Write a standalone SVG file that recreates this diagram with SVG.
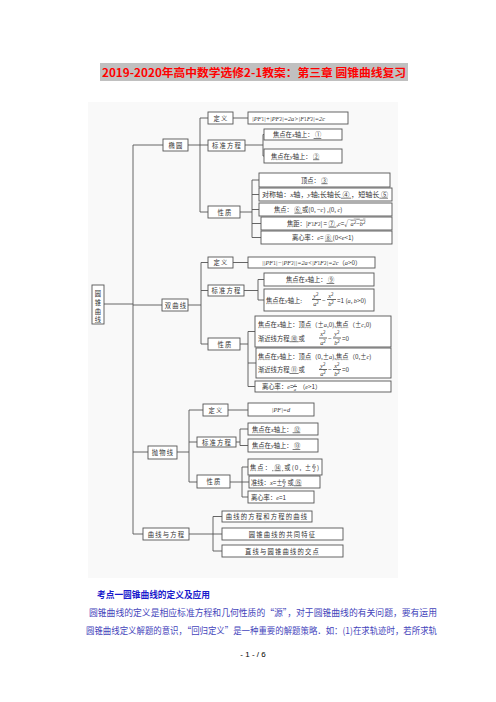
<svg xmlns="http://www.w3.org/2000/svg" width="496" height="702" viewBox="0 0 496 702">
<style>
.box{fill:#fff;stroke:#555;stroke-width:0.9}
.ln{stroke:#555;stroke-width:0.9;fill:none}
.t{font-family:"Noto Sans CJK SC",sans-serif;font-size:6.3px;fill:#333}
.c{text-anchor:middle}
.sp{letter-spacing:1.2px}
.m{font-family:"Liberation Serif",serif;font-style:italic}
.s{font-size:4.6px}
.u{text-decoration:underline}
</style>
<rect width="496" height="702" fill="#fff"/>
<rect x="100" y="63" width="308" height="18" fill="#c0c0c0"/>
<text x="102" y="77" font-family="'Noto Sans CJK SC',sans-serif" font-size="11" font-weight="bold" fill="#f00" textLength="304" lengthAdjust="spacingAndGlyphs">2019-2020年高中数学选修2-1教案：第三章 圆锥曲线复习</text>
<rect x="88" y="102" width="310" height="476" fill="#f9f9f9"/>

<g id="connectors" class="ln">
<path d="M104 304H133M133 145V534M133 145H163M133 305H162M133 452H148M133 534H143"/>
<path d="M188 145H200M200 118V212M200 118H208M200 145H208M200 212H208"/>
<path d="M233 118H248M245 145H263M263 134.5V156M263 134.5H264M263 156H264"/>
<path d="M240 212H252M252 180V237.5M252 180H259M252 194.5H259M252 209.5H259M252 223.5H261M252 237.5H261"/>
<path d="M188 305H201M201 262.5V344M201 262.5H208M201 290.5H208M201 344H208"/>
<path d="M233 262.5H248M244 290.5H258M258 279.5V300M258 279.5H264M258 300H264"/>
<path d="M240 344H248M248 331.5V386.5M248 331.5H255M248 363H256M248 386.5H255"/>
<path d="M177 452H189M189 410V482M189 410H203M189 442H197M189 482H197"/>
<path d="M228 410H248M236 442H240M240 429V445.5M240 429H248M240 445.5H248"/>
<path d="M230 482H242M242 467V497M242 467H248M242 482H249M242 497H248"/>
<path d="M189 534H222M213 516.5V551M213 516.5H222M213 551H222"/>
</g>

<g id="root"><rect class="box" x="92" y="285" width="12" height="39"/>
<text class="t c" x="98"><tspan x="98" y="296">圆</tspan><tspan x="98" y="305">锥</tspan><tspan x="98" y="314">曲</tspan><tspan x="98" y="322">线</tspan></text></g>

<g id="ellipse"><rect class="box" x="163" y="139" width="25" height="12"/><text class="t c sp" x="176" y="147.5">椭圆</text></g>
<g id="e-def"><rect class="box" x="208" y="112" width="25" height="12"/><text class="t c sp" x="221" y="120.5">定义</text></g>
<g id="e-std"><rect class="box" x="208" y="140" width="37" height="11"/><text class="t c sp" x="227" y="148">标准方程</text></g>
<g id="e-prop"><rect class="box" x="208" y="206" width="32" height="12"/><text class="t c sp" x="225" y="214.5">性质</text></g>
<g id="e-def-t"><rect class="box" x="248" y="112" width="100" height="12"/><text class="t" x="252" y="120.5"><tspan class="m">|PF</tspan><tspan class="s">1</tspan><tspan class="m">|+|PF</tspan><tspan class="s">2</tspan><tspan class="m">|=2a&gt;|F</tspan><tspan class="s">1</tspan><tspan class="m">F</tspan><tspan class="s">2</tspan><tspan class="m">|=2c</tspan></text></g>
<g id="e-x"><rect class="box" x="264" y="129" width="78" height="11"/><text class="t" x="273" y="137">焦点在<tspan class="m">x</tspan>轴上：<tspan class="u"> ① </tspan></text></g>
<g id="e-y"><rect class="box" x="264" y="149" width="78" height="14"/><text class="t" x="271" y="158.5">焦点在<tspan class="m">y</tspan>轴上： <tspan class="u"> ② </tspan></text></g>
<g id="e-p1"><rect class="box" x="259" y="173" width="131" height="14"/><text class="t" x="301" y="182.5">顶点： <tspan class="u"> ③ </tspan></text></g>
<g id="e-p2"><rect class="box" x="259" y="188" width="133" height="13"/><text class="t" x="262" y="196.8" textLength="126" lengthAdjust="spacingAndGlyphs">对称轴：<tspan class="m">x</tspan>轴，<tspan class="m">y</tspan>轴;长轴长<tspan class="u"> ④ </tspan>，短轴长<tspan class="u"> ⑤ </tspan></text></g>
<g id="e-p3"><rect class="box" x="259" y="203" width="133" height="13"/><text class="t" x="274" y="211.8">焦点： <tspan class="u"> ⑥ </tspan> 或(0, −<tspan class="m">c</tspan>) ,(0, <tspan class="m">c</tspan>)</text></g>
<g id="e-p4"><rect class="box" x="261" y="217" width="131" height="13"/><text class="t" x="287" y="225.8">焦距：|<tspan class="m">F</tspan><tspan class="s">1</tspan><tspan class="m">F</tspan><tspan class="s">2</tspan>| = <tspan class="u"> ⑦ </tspan> ,<tspan class="m">c</tspan>=√<tspan text-decoration="overline"><tspan class="m">a</tspan><tspan class="s" dy="-2">2</tspan><tspan dy="2">−</tspan><tspan class="m">b</tspan><tspan class="s" dy="-2">2</tspan></tspan></text></g>
<g id="e-p5"><rect class="box" x="261" y="231" width="131" height="13"/><text class="t" x="292" y="239.8">离心率：<tspan class="m">e</tspan>= <tspan class="u"> ⑧ </tspan> (0&lt;<tspan class="m">e</tspan>&lt;1)</text></g>

<g id="hyperbola"><rect class="box" x="162" y="299" width="26" height="12"/><text class="t c sp" x="176" y="307.5">双曲线</text></g>
<g id="h-def"><rect class="box" x="208" y="257" width="25" height="11"/><text class="t c sp" x="221" y="265">定义</text></g>
<g id="h-std"><rect class="box" x="208" y="285" width="36" height="11"/><text class="t c sp" x="226.5" y="293">标准方程</text></g>
<g id="h-prop"><rect class="box" x="208" y="338" width="32" height="12"/><text class="t c sp" x="225" y="346.5">性质</text></g>
<g id="h-def-t"><rect class="box" x="248" y="257" width="127" height="11"/><text class="t" x="262" y="265"><tspan class="m">||PF</tspan><tspan class="s">1</tspan><tspan class="m">|−|PF</tspan><tspan class="s">2</tspan><tspan class="m">||=2a&lt;|F</tspan><tspan class="s">1</tspan><tspan class="m">F</tspan><tspan class="s">2</tspan><tspan class="m">|=2c</tspan>（<tspan class="m">a</tspan>&gt;0）</text></g>
<g id="h-x"><rect class="box" x="264" y="273" width="110" height="13"/><text class="t" x="286" y="282">焦点在<tspan class="m">x</tspan>轴上：<tspan class="u"> ⑨ </tspan></text></g>
<g id="h-y"><rect class="box" x="264" y="289" width="110" height="22"/>
<text class="t" x="266" y="302.5">焦点在<tspan class="m">y</tspan>轴上:</text>
<text class="t c" x="316" y="297.5"><tspan class="m">y</tspan><tspan class="s" dy="-2">2</tspan></text><line class="ln" x1="312" y1="299.5" x2="321" y2="299.5" stroke-width="0.5"/><text class="t c" x="316" y="306"><tspan class="m">a</tspan><tspan class="s" dy="-2">2</tspan></text>
<text class="t" x="322" y="302.5">−</text>
<text class="t c" x="331" y="297.5"><tspan class="m">x</tspan><tspan class="s" dy="-2">2</tspan></text><line class="ln" x1="327" y1="299.5" x2="336" y2="299.5" stroke-width="0.5"/><text class="t c" x="331" y="306"><tspan class="m">b</tspan><tspan class="s" dy="-2">2</tspan></text>
<text class="t" x="337" y="302.5">=1 (<tspan class="m">a</tspan>, <tspan class="m">b</tspan>&gt;0)</text></g>
<g id="h-p1"><rect class="box" x="255" y="316" width="136" height="31"/>
<text class="t" x="258" y="326.5">焦点在<tspan class="m">x</tspan>轴上：顶点（±<tspan class="m">a</tspan>,0),焦点（±<tspan class="m">c</tspan>,0)</text>
<text class="t" x="258" y="340.5">渐近线方程<tspan class="u"> ⑩ </tspan>或</text>
<text class="t c" x="323" y="336"><tspan class="m">x</tspan><tspan class="s" dy="-2">2</tspan></text><line class="ln" x1="319" y1="338" x2="327" y2="338" stroke-width="0.5"/><text class="t c" x="323" y="344.5"><tspan class="m">a</tspan><tspan class="s" dy="-2">2</tspan></text>
<text class="t" x="328" y="340.5">−</text>
<text class="t c" x="337" y="336"><tspan class="m">y</tspan><tspan class="s" dy="-2">2</tspan></text><line class="ln" x1="333" y1="338" x2="341" y2="338" stroke-width="0.5"/><text class="t c" x="337" y="344.5"><tspan class="m">b</tspan><tspan class="s" dy="-2">2</tspan></text>
<text class="t" x="342" y="340.5">=0</text></g>
<g id="h-p2"><rect class="box" x="256" y="348" width="135" height="30"/>
<text class="t" x="258" y="358.5">焦点在<tspan class="m">y</tspan>轴上：顶点（0,±<tspan class="m">a</tspan>),焦点（0,±<tspan class="m">c</tspan>)</text>
<text class="t" x="258" y="372">渐近线方程<tspan class="u"> ⑪ </tspan>或</text>
<text class="t c" x="323" y="367.5"><tspan class="m">y</tspan><tspan class="s" dy="-2">2</tspan></text><line class="ln" x1="319" y1="369.5" x2="327" y2="369.5" stroke-width="0.5"/><text class="t c" x="323" y="376"><tspan class="m">a</tspan><tspan class="s" dy="-2">2</tspan></text>
<text class="t" x="328" y="372">−</text>
<text class="t c" x="337" y="367.5"><tspan class="m">x</tspan><tspan class="s" dy="-2">2</tspan></text><line class="ln" x1="333" y1="369.5" x2="341" y2="369.5" stroke-width="0.5"/><text class="t c" x="337" y="376"><tspan class="m">b</tspan><tspan class="s" dy="-2">2</tspan></text>
<text class="t" x="342" y="372">=0</text></g>
<g id="h-p3"><rect class="box" x="255" y="381" width="136" height="11"/><text class="t" x="262" y="389">离心率：<tspan class="m">e</tspan>=</text>
<text class="t c s" x="295" y="385.5"><tspan class="m">c</tspan></text><line class="ln" x1="293" y1="386.5" x2="297" y2="386.5" stroke-width="0.4"/><text class="t c s" x="295" y="390.5"><tspan class="m">a</tspan></text>
<text class="t" x="299" y="389">（<tspan class="m">e</tspan>&gt;1）</text></g>

<g id="parabola"><rect class="box" x="148" y="446" width="29" height="13"/><text class="t c sp" x="163" y="455">抛物线</text></g>
<g id="p-def"><rect class="box" x="203" y="404" width="25" height="12"/><text class="t c sp" x="216" y="412.5">定义</text></g>
<g id="p-std"><rect class="box" x="197" y="437" width="39" height="10"/><text class="t c sp" x="217" y="444.5">标准方程</text></g>
<g id="p-prop"><rect class="box" x="197" y="475" width="33" height="13"/><text class="t c sp" x="214" y="484">性质</text></g>
<g id="p-def-t"><rect class="box" x="248" y="403" width="66" height="13"/><text class="t c m" x="281" y="412">|PF|=d</text></g>
<g id="p-x"><rect class="box" x="248" y="423" width="70" height="12"/><text class="t" x="252" y="431.5">焦点在<tspan class="m">x</tspan>轴上：<tspan class="u"> ⑫ </tspan></text></g>
<g id="p-y"><rect class="box" x="248" y="439" width="70" height="13"/><text class="t" x="252" y="448">焦点在<tspan class="m">y</tspan>轴上：<tspan class="u"> ⑬ </tspan></text></g>
<g id="p-p1"><rect class="box" x="248" y="459" width="74" height="16"/><text class="t" x="250" y="469.5" textLength="61" lengthAdjust="spacing">焦点：<tspan class="u"> ⑭ </tspan>或(0, ±</text>
<text class="t c s" x="314" y="466"><tspan class="m">p</tspan></text><line class="ln" x1="312" y1="467" x2="316" y2="467" stroke-width="0.4"/><text class="t c s" x="314" y="471.5">2</text><text class="t" x="317" y="469.5">)</text></g>
<g id="p-p2"><rect class="box" x="249" y="476" width="71" height="12"/><text class="t" x="251" y="484.5">准线：<tspan class="m">x</tspan>=±</text>
<text class="t c s" x="284" y="481"><tspan class="m">p</tspan></text><line class="ln" x1="282" y1="482" x2="286" y2="482" stroke-width="0.4"/><text class="t c s" x="284" y="486.5">2</text>
<text class="t" x="287.5" y="484.5">或<tspan class="u">  ⑮  </tspan></text></g>
<g id="p-p3"><rect class="box" x="248" y="491" width="66" height="12"/><text class="t" x="251" y="499.5">离心率：<tspan class="m">e</tspan>=1</text></g>

<g id="curve-eq"><rect class="box" x="143" y="528" width="46" height="12"/><text class="t c sp" x="166.5" y="536.5">曲线与方程</text></g>
<g id="c1"><rect class="box" x="222" y="511" width="90" height="11"/><text class="t c sp" x="267" y="519">曲线的方程和方程的曲线</text></g>
<g id="c2"><rect class="box" x="222" y="528" width="121" height="12"/><text class="t c sp" x="282.5" y="536.5">圆锥曲线的共同特征</text></g>
<g id="c3"><rect class="box" x="222" y="545" width="121" height="12"/><text class="t c sp" x="282.5" y="553.5">直线与圆锥曲线的交点</text></g>

<text x="97" y="598" font-family="'Noto Sans CJK SC',sans-serif" font-size="9" font-weight="bold" fill="#1a1acc" textLength="113" lengthAdjust="spacingAndGlyphs">考点一圆锥曲线的定义及应用</text>
<text x="89" y="616" font-family="'Noto Sans CJK SC',sans-serif" font-size="9" fill="#4444bb" textLength="348" lengthAdjust="spacingAndGlyphs">圆锥曲线的定义是相应标准方程和几何性质的“源”，对于圆锥曲线的有关问题，要有运用</text>
<text x="86" y="634" font-family="'Noto Sans CJK SC',sans-serif" font-size="9" fill="#4444bb" textLength="351" lengthAdjust="spacingAndGlyphs">圆锥曲线定义解题的意识，“回归定义”是一种重要的解题策略．如：(1)在求轨迹时，若所求轨</text>
<text x="253" y="657" text-anchor="middle" font-family="'Liberation Sans',sans-serif" font-size="8" fill="#000">- 1 - / 6</text>
</svg>
